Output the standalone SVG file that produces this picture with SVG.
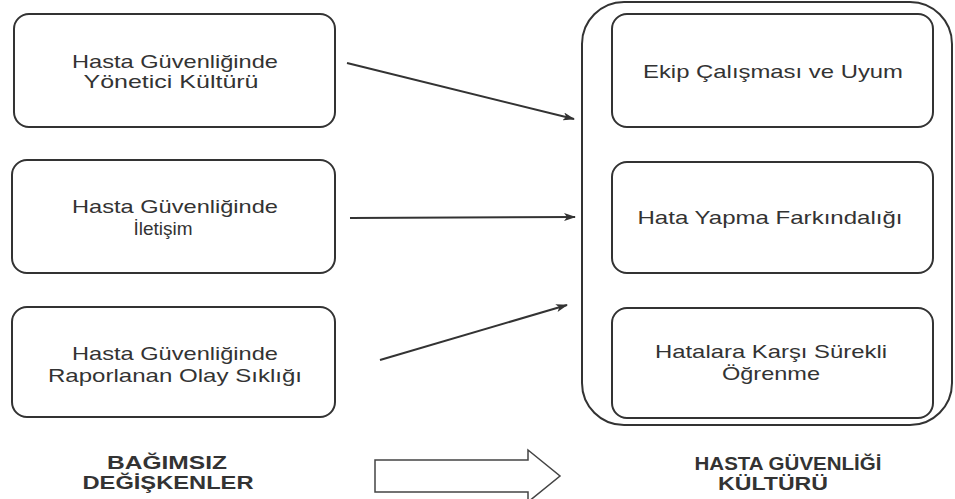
<svg xmlns="http://www.w3.org/2000/svg" width="955" height="499" viewBox="0 0 955 499">
<style>
.box{fill:none;stroke:#333;stroke-width:2}
.t{font-family:"Liberation Sans",Arial,sans-serif;font-size:19px;fill:#333;text-anchor:middle}
.h{font-family:"Liberation Sans",Arial,sans-serif;font-size:18px;font-weight:bold;fill:#333;text-anchor:middle}
.c{stroke:#333;stroke-width:2;fill:none;marker-end:url(#ah)}
</style>
<defs>
<marker id="ah" markerWidth="12" markerHeight="8" refX="11" refY="4" orient="auto" markerUnits="userSpaceOnUse">
<path d="M0,0 L12,4 L0,8 L3,4 Z" fill="#333"/>
</marker>
</defs>
<rect width="955" height="499" fill="#fff"/>
<g id="n1">
<rect class="box" x="14" y="14" width="321" height="113" rx="15"/>
<text class="t" x="175" y="68" textLength="206" lengthAdjust="spacingAndGlyphs">Hasta Güvenliğinde</text>
<text class="t" x="171" y="88" textLength="175" lengthAdjust="spacingAndGlyphs">Yönetici Kültürü</text>
</g>
<g id="n2">
<rect class="box" x="12" y="160" width="323" height="113" rx="15"/>
<text class="t" x="175" y="213" textLength="206" lengthAdjust="spacingAndGlyphs">Hasta Güvenliğinde</text>
<text class="t" x="163" y="235">İletişim</text>
</g>
<g id="n3">
<rect class="box" x="12" y="307" width="323" height="110" rx="15"/>
<text class="t" x="175" y="360" textLength="206" lengthAdjust="spacingAndGlyphs">Hasta Güvenliğinde</text>
<text class="t" x="175" y="382" textLength="254" lengthAdjust="spacingAndGlyphs">Raporlanan Olay Sıklığı</text>
</g>
<g id="outer">
<rect class="box" x="582" y="2" width="370" height="423" rx="42"/>
</g>
<g id="r1">
<rect class="box" x="612" y="14" width="321" height="113" rx="15"/>
<text class="t" x="773" y="78" textLength="260" lengthAdjust="spacingAndGlyphs">Ekip Çalışması ve Uyum</text>
</g>
<g id="r2">
<rect class="box" x="612" y="162" width="321" height="111" rx="15"/>
<text class="t" x="770" y="224" textLength="265" lengthAdjust="spacingAndGlyphs">Hata Yapma Farkındalığı</text>
</g>
<g id="r3">
<rect class="box" x="612" y="308" width="321" height="110" rx="15"/>
<text class="t" x="771" y="358" textLength="232" lengthAdjust="spacingAndGlyphs">Hatalara Karşı Sürekli</text>
<text class="t" x="771" y="380" textLength="98" lengthAdjust="spacingAndGlyphs">Öğrenme</text>
</g>
<g id="connectors">
<line class="c" x1="347" y1="63" x2="574" y2="119"/>
<line class="c" x1="350" y1="218" x2="575" y2="217"/>
<line class="c" x1="380" y1="360" x2="567" y2="305"/>
</g>
<g id="bigarrow">
<path d="M375,460 L528,460 L528,450 L560,476 L528,502 L528,492 L375,492 Z" fill="none" stroke="#444" stroke-width="1.5"/>
</g>
<g id="label-left">
<text class="h" x="167" y="469" textLength="120" lengthAdjust="spacingAndGlyphs">BAĞIMSIZ</text>
<text class="h" x="168" y="489" textLength="171" lengthAdjust="spacingAndGlyphs">DEĞİŞKENLER</text>
</g>
<g id="label-right">
<text class="h" x="788" y="470" textLength="187" lengthAdjust="spacingAndGlyphs">HASTA GÜVENLİĞİ</text>
<text class="h" x="773" y="490" textLength="110" lengthAdjust="spacingAndGlyphs">KÜLTÜRÜ</text>
</g>
</svg>
